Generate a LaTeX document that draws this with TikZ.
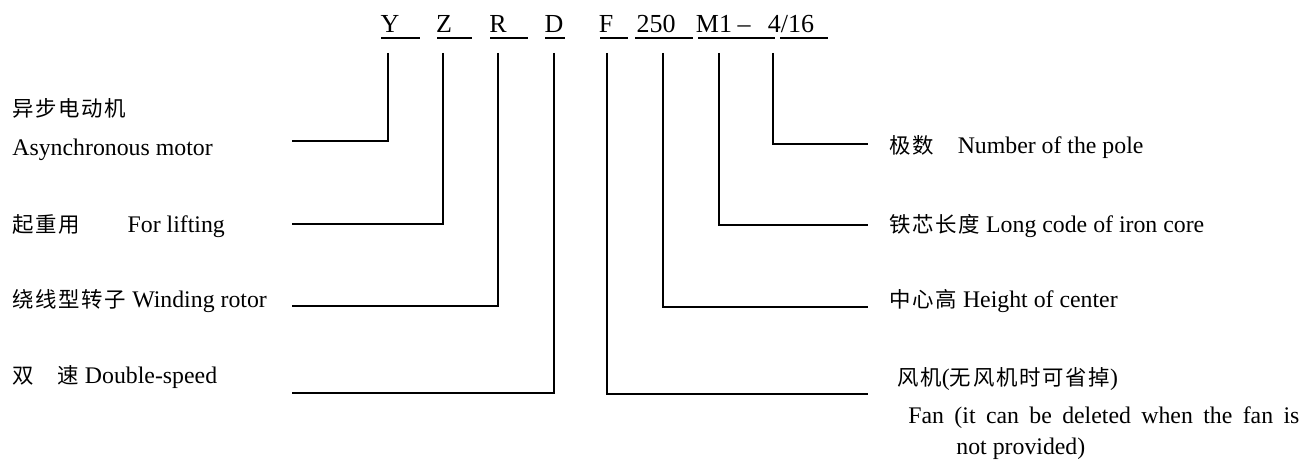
\documentclass[tikz,border=0pt]{standalone}
\usepackage{fontspec}
\setmainfont{Liberation Serif}
\newfontfamily\cjk[Scale=0.9,LetterSpace=8]{Noto Sans CJK SC}
\usepackage{tikz}
\usetikzlibrary{positioning}

\begin{document}
\begin{tikzpicture}[x=0.5pt, y=-0.5pt, font=\fontsize{11.9pt}{14pt}\selectfont]
\tikzstyle{lbl}=[inner sep=0pt, anchor=base west]
\tikzstyle{code}=[inner sep=0pt, anchor=base, font=\fontsize{13pt}{15pt}\selectfont]
\tikzstyle{link}=[line width=1.1pt]
\tikzstyle{uline}=[line width=0.6pt]
\useasboundingbox (0,0) rectangle (1301,464);
% model code
\node[code] (cY) at (390,33) {Y};
\node[code] (cZ) at (444,33) {Z};
\node[code] (cR) at (498,33) {R};
\node[code] (cD) at (554,33) {D};
\node[code] (cF) at (606,33) {F};
\node[code] (c250) at (656,33) {250};
\node[code] (cM) at (714,33) {M1};
\node[code] (cdash) at (744,33) {--};
\node[code] (cpole) at (791,33) {4/16};
\foreach \a/\b in {381/420, 437/472, 490/528, 545/565, 600/628, 635/693, 698/775, 780/828}
  \draw[uline] (\a,38) -- (\b,38);
% left labels
\node[lbl] (async) at (12,117) {\cjk 异步电动机};
\node[lbl] (asyncEn) at (12,156) {Asynchronous motor};
\node[lbl] (lift) at (12,233) {{\cjk 起重用}\hspace{2em}For lifting};
\node[lbl] (rotor) at (12,308) {{\cjk 绕线型转子} Winding rotor};
\node[lbl] (speed) at (12,384) {{\cjk 双}\hspace{1em}{\cjk 速} Double-speed};
% right labels
\node[lbl] (pole) at (889,154) {{\cjk 极数}\hspace{1em}Number of the pole};
\node[lbl] (core) at (889,233) {{\cjk 铁芯长度} Long code of iron core};
\node[lbl] (height) at (889,308) {{\cjk 中心高} Height of center};
\node[lbl] (fan) at (897,386) {{\cjk 风机}({\cjk 无风机时可省掉})};
\node[lbl] (fanEn) at (908,423) {\makebox[195.5pt][s]{Fan (it can be deleted when the fan is}};
\node[lbl] (fanEn2) at (956,455) {not provided)};
% connector ends
\coordinate (tY) at (388,53);   \coordinate (eY) at (292,141);
\coordinate (tZ) at (443,53);   \coordinate (eZ) at (292,224);
\coordinate (tR) at (498,53);   \coordinate (eR) at (292,306);
\coordinate (tD) at (554,53);   \coordinate (eD) at (292,393);
\coordinate (tF) at (607,53);   \coordinate (eF) at (868,394);
\coordinate (t250) at (663,53); \coordinate (e250) at (868,307);
\coordinate (tM) at (719,53);   \coordinate (eM) at (868,225);
\coordinate (tP) at (773,53);   \coordinate (eP) at (868,144);
\foreach \n in {Y,Z,R,D,F,250,M,P}
  \draw[link] (t\n) |- (e\n);
\end{tikzpicture}
\end{document}
